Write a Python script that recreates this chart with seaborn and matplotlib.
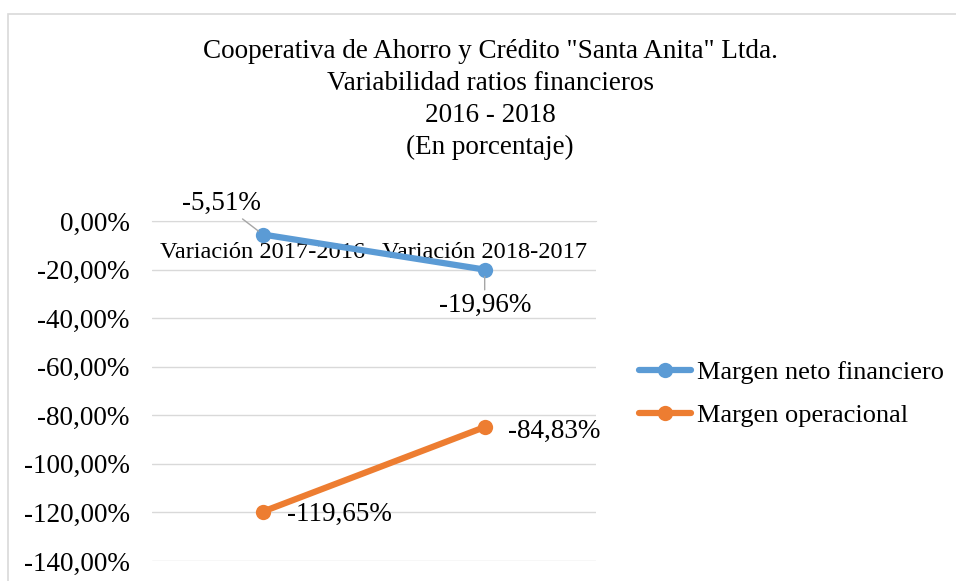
import pandas as pd
import matplotlib.pyplot as plt
import seaborn as sns
from matplotlib.patches import Rectangle

# data
categories = ['Variación 2017-2016', 'Variación 2018-2017']
margen_neto = [-5.51, -19.96]
margen_operacional = [-119.65, -84.83]
series_names = ['Margen neto financiero', 'Margen operacional']
y_ticks = [0, -20, -40, -60, -80, -100, -120, -140]

df = pd.DataFrame({
    'Categoria': categories * 2,
    'Valor': margen_neto + margen_operacional,
    'Serie': [series_names[0]] * 2 + [series_names[1]] * 2,
})

sns.set_style('white')
plt.rcParams['font.family'] = ['Liberation Serif', 'DejaVu Serif']
plt.rcParams['text.color'] = 'black'
plt.rcParams['xtick.color'] = 'black'
plt.rcParams['ytick.color'] = 'black'
FS = 19.5

fig = plt.figure(figsize=(9.56, 5.81), dpi=100)
ax = fig.add_axes([0.159, 0.0344, 0.464, 0.585])

colors = {series_names[0]: '#5B9BD5', series_names[1]: '#ED7D31'}
sns.lineplot(data=df, x='Categoria', y='Valor', hue='Serie', palette=colors,
             marker='o', markersize=11, markeredgewidth=0, linewidth=4.5,
             ax=ax, clip_on=False, zorder=3)

ax.set_ylim(-140, 0)
ax.set_xlim(-0.5, 1.5)
ax.set_yticks(y_ticks)
ax.set_yticklabels([f"{v:.2f}%".replace('.', ',') for v in y_ticks], fontsize=FS)
ax.yaxis.grid(True, color='#D9D9D9', linewidth=1)
ax.set_xlabel('')
ax.set_ylabel('')
for s in ['top', 'right', 'left']:
    ax.spines[s].set_visible(False)
ax.spines['bottom'].set_position(('data', 0))
ax.spines['bottom'].set_color('#D9D9D9')
ax.tick_params(axis='x', length=0, pad=15, labelsize=17.6)
ax.tick_params(axis='y', length=0, pad=16)

# data labels
lbl = dict(fontsize=FS, color='black')
ax.annotate('-5,51%', xy=(0, margen_neto[0]), xytext=(-0.185, 7.4),
            ha='center', va='center', annotation_clip=False,
            arrowprops=dict(arrowstyle='-', color='#A6A6A6', lw=1, shrinkA=0, shrinkB=4), **lbl)
ax.annotate('-19,96%', xy=(1, margen_neto[1]), xytext=(1, -34.8),
            ha='center', va='center', annotation_clip=False,
            arrowprops=dict(arrowstyle='-', color='#A6A6A6', lw=1, shrinkA=0, shrinkB=5), **lbl)
ax.text(1.104, -86.8, '-84,83%', ha='left', va='center', **lbl)
ax.text(0.108, -121, '-119,65%', ha='left', va='center', **lbl)

ax.legend(loc='center left', bbox_to_anchor=(0.644, 0.322), bbox_transform=fig.transFigure,
          frameon=False, fontsize=19, handlelength=1.95, handletextpad=0.22,
          labelspacing=0.72)

fig.text(0.5126, 0.8285,
         'Cooperativa de Ahorro y Crédito "Santa Anita" Ltda.\n'
         'Variabilidad ratios financieros\n2016 - 2018\n(En porcentaje)',
         ha='center', va='center', fontsize=FS, linespacing=1.37)

fig.patches.append(Rectangle((8 / 956, -0.1), 1.2, 1 - 14 / 581 + 0.1,
                             transform=fig.transFigure, fill=False,
                             edgecolor='#D9D9D9', linewidth=1.2))

fig.savefig('out.png', dpi=100)
